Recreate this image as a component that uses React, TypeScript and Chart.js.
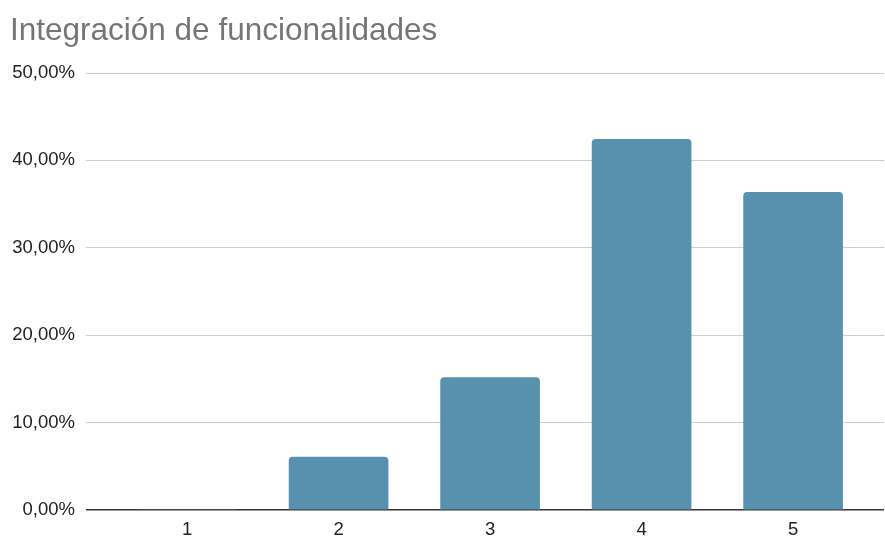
import React, { useEffect, useRef } from "react";
import { Chart, registerables } from "chart.js";

Chart.register(...registerables);

const chartTitle = "Integración de funcionalidades";
const categories = [1, 2, 3, 4, 5];
const percentages = [0, 6.06, 15.15, 42.42, 36.36];
const yTicks = [0, 10, 20, 30, 40, 50];

const FONT = "'Liberation Sans', Arial, sans-serif";
const fmt = (v: number) => v.toFixed(2).replace(".", ",") + "%";

const titlePlugin = {
  id: "customTitle",
  afterDraw(chart: any) {
    const ctx = chart.ctx;
    ctx.save();
    ctx.font = "31.5px " + FONT;
    ctx.fillStyle = "#757575";
    ctx.textBaseline = "alphabetic";
    ctx.textAlign = "left";
    ctx.fillText(chartTitle, 10, 40);
    ctx.restore();
  },
};

export default function App() {
  const ref = useRef<HTMLCanvasElement>(null);
  useEffect(() => {
    document.body.style.margin = "0";
    const chart = new Chart(ref.current!, {
      type: "bar",
      data: {
        datasets: [
          {
            data: categories.map((c, i) => ({ x: c, y: percentages[i] })),
            backgroundColor: "#5891AD",
            barThickness: 99,
            borderRadius: { topLeft: 4, topRight: 4, bottomLeft: 0, bottomRight: 0 },
            borderSkipped: "start",
          },
        ],
      },
      options: {
        animation: false,
        responsive: false,
        layout: { padding: { top: 73, right: 1, left: 0, bottom: 0 } },
        plugins: { legend: { display: false }, tooltip: { enabled: false }, title: { display: false } },
        scales: {
          x: {
            type: "linear",
            offset: false,
            min: 0.333,
            max: 5.6,
            grid: { display: false, drawTicks: false },
            border: { display: false },
            afterBuildTicks: (s: any) => {
              s.ticks = categories.map((v) => ({ value: v }));
            },
            afterFit: (s: any) => {
              s.height = 26;
            },
            ticks: {
              padding: 9,
              color: "#222",
              font: { family: FONT, size: 18.5 },
              callback: (v: any) => String(v),
            },
          },
          y: {
            min: 0,
            max: 50,
            afterBuildTicks: (s: any) => {
              s.ticks = yTicks.map((v) => ({ value: v }));
            },
            afterFit: (s: any) => {
              s.width = 86;
            },
            grid: {
              drawTicks: false,
              color: (c: any) => (c.tick && c.tick.value === 0 ? "#333333" : "#cccccc"),
              lineWidth: (c: any) => (c.tick && c.tick.value === 0 ? 1.5 : 1),
            },
            border: { display: false },
            ticks: {
              padding: 11,
              color: "#222",
              font: { family: FONT, size: 18.5 },
              callback: (v: any) => fmt(Number(v)),
            },
          },
        },
      },
      plugins: [titlePlugin],
    } as any);
    return () => chart.destroy();
  }, []);
  return (
    <div style={{ position: "fixed", left: 0, top: 0, width: 885, height: 536, background: "#fff" }}>
      <canvas ref={ref} width={885} height={536} style={{ display: "block" }} />
    </div>
  );
}
